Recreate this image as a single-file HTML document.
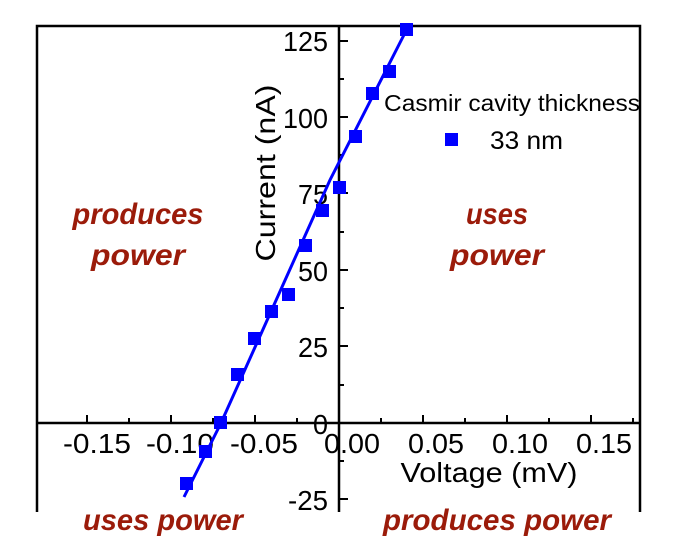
<!DOCTYPE html><html><head><style>body{margin:0;background:#fff}svg{display:block}</style></head><body>
<svg width="681" height="556" xmlns="http://www.w3.org/2000/svg" font-family="Liberation Sans, sans-serif">
<g stroke="#000" stroke-width="2.5" fill="none">
<path d="M37,512V26H640V512"/>
<path d="M339,26V512"/>
<path d="M37,423H640"/>
</g>
<g stroke="#000" stroke-width="2">
<path d="M339,41h9M339,79h5M339,117h9M339,155h5M339,193h9M339,232h5M339,270h9M339,308h5M339,346h9M339,385h5M339,461h5M339,499h9"/>
<path d="M87,423v-8M129,423v-5M171,423v-8M213,423v-5M255,423v-8M297,423v-5M381,423v-5M423,423v-8M465,423v-5M507,423v-8M549,423v-5M591,423v-8M633,423v-5"/>
</g>
<g font-size="28" text-anchor="end" lengthAdjust="spacingAndGlyphs">
<text x="328" y="51" textLength="45" lengthAdjust="spacingAndGlyphs">125</text><text x="328" y="128" textLength="45" lengthAdjust="spacingAndGlyphs">100</text><text x="328" y="204" textLength="30" lengthAdjust="spacingAndGlyphs">75</text><text x="328" y="281" textLength="30" lengthAdjust="spacingAndGlyphs">50</text><text x="328" y="357" textLength="30" lengthAdjust="spacingAndGlyphs">25</text><text x="328" y="434" textLength="15" lengthAdjust="spacingAndGlyphs">0</text><text x="328" y="510" textLength="40" lengthAdjust="spacingAndGlyphs">-25</text>
</g>
<g font-size="28" text-anchor="middle">
<text x="97" y="453" textLength="68" lengthAdjust="spacingAndGlyphs">-0.15</text><text x="180" y="453" textLength="68" lengthAdjust="spacingAndGlyphs">-0.10</text><text x="264" y="453" textLength="68" lengthAdjust="spacingAndGlyphs">-0.05</text><text x="352" y="453" textLength="56" lengthAdjust="spacingAndGlyphs">0.00</text><text x="436" y="453" textLength="56" lengthAdjust="spacingAndGlyphs">0.05</text><text x="520" y="453" textLength="56" lengthAdjust="spacingAndGlyphs">0.10</text><text x="604" y="453" textLength="56" lengthAdjust="spacingAndGlyphs">0.15</text>
<text x="489" y="482" textLength="177" lengthAdjust="spacingAndGlyphs">Voltage (mV)</text>
<text transform="translate(275,173) rotate(-90)" textLength="177" lengthAdjust="spacingAndGlyphs">Current (nA)</text>
</g>
<polyline points="184,497 221,423 330,180 409,25" fill="none" stroke="#0000ff" stroke-width="3"/>
<g fill="#0000ff">
<rect x="180" y="477" width="13" height="13"/><rect x="199" y="445" width="13" height="13"/><rect x="214" y="416" width="13" height="13"/>
<rect x="231" y="368" width="13" height="13"/><rect x="248" y="332" width="13" height="13"/><rect x="265" y="305" width="13" height="13"/>
<rect x="282" y="288" width="13" height="13"/><rect x="299" y="239" width="13" height="13"/><rect x="316" y="204" width="13" height="13"/>
<rect x="333" y="181" width="13" height="13"/><rect x="349" y="130" width="13" height="13"/><rect x="366" y="87" width="13" height="13"/>
<rect x="383" y="65" width="13" height="13"/><rect x="400" y="23" width="13" height="13"/>
<rect x="445" y="133" width="13" height="13"/>
</g>
<text x="384" y="111" font-size="23" textLength="256" lengthAdjust="spacingAndGlyphs">Casmir cavity thickness</text>
<text x="490" y="149" font-size="25" textLength="73" lengthAdjust="spacingAndGlyphs">33 nm</text>
<g fill="#9b1b0a" font-weight="bold" font-style="italic" font-size="30" text-anchor="middle">
<text x="138" y="224" textLength="131" lengthAdjust="spacingAndGlyphs">produces</text><text x="138" y="265" textLength="94" lengthAdjust="spacingAndGlyphs">power</text>
<text x="497" y="224" textLength="62" lengthAdjust="spacingAndGlyphs">uses</text><text x="497" y="265" textLength="94" lengthAdjust="spacingAndGlyphs">power</text>
<text x="163" y="530" textLength="160" lengthAdjust="spacingAndGlyphs">uses power</text><text x="497" y="530" textLength="228" lengthAdjust="spacingAndGlyphs">produces power</text>
</g>
</svg>
</body></html>
